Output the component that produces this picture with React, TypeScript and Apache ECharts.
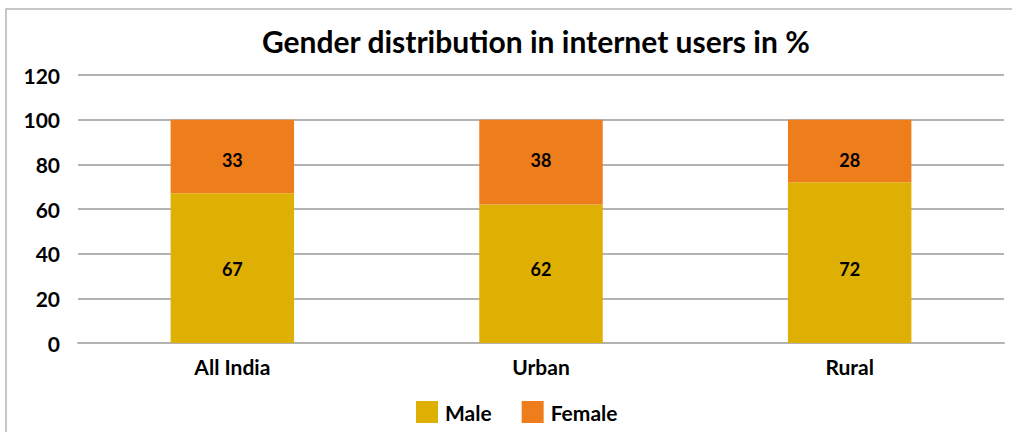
import React, { useEffect, useRef } from "react";
import * as echarts from "echarts";

const categories = ["All India", "Urban", "Rural"];
const maleValues = [67, 62, 72];
const femaleValues = [33, 38, 28];
const yTicks = { min: 0, max: 120, interval: 20 };

// label positions in the reference sit at fixed heights (style only)
const maleLabelOffsets = [1, -5, 6];
const femaleLabelOffsets = [3, -2, 9];

const FONT = "Lato, 'Open Sans', sans-serif";

export default function App() {
  const ref = useRef<HTMLDivElement>(null);
  useEffect(() => {
    if (!ref.current) return;
    const chart = echarts.init(ref.current, null, { renderer: "svg" });
    const labelBase = { show: true, position: "inside", fontFamily: FONT, fontWeight: "bold", fontSize: 18, color: "#000" };
    chart.setOption({
      animation: false,
      backgroundColor: "#ffffff",
      title: {
        text: "Gender distribution in internet users in %",
        left: 257,
        top: 21,
        textStyle: { fontFamily: FONT, fontWeight: "bold", fontSize: 30, color: "#000" },
      },
      graphic: [
        {
          type: "rect",
          shape: { x: 6, y: 9, width: 1020, height: 440 },
          style: { fill: "none", stroke: "#b5b5b5", lineWidth: 1.5 },
          silent: true,
        },
      ],
      legend: {
        data: ["Male", "Female"],
        left: 411,
        top: 396,
        itemWidth: 22,
        itemHeight: 22,
        itemGap: 30,
        icon: "rect",
        textStyle: { fontFamily: FONT, fontWeight: "bold", fontSize: 21, color: "#000", padding: [0, 0, 0, 2] },
      },
      grid: { left: 78, right: 8, top: 75, bottom: 89, containLabel: false },
      xAxis: {
        type: "category",
        data: categories,
        axisLine: { show: true, lineStyle: { color: "#b3b3b3", width: 2 } },
        axisTick: { show: false },
        axisLabel: { fontFamily: FONT, fontWeight: "bold", fontSize: 21, color: "#000", margin: 13 },
      },
      yAxis: {
        type: "value",
        min: yTicks.min,
        max: yTicks.max,
        interval: yTicks.interval,
        axisLine: { show: false },
        axisTick: { show: false },
        splitLine: { lineStyle: { color: "#b3b3b3", width: 2 } },
        axisLabel: { fontFamily: FONT, fontWeight: "bold", fontSize: 21, color: "#000", margin: 18, align: "right" },
      },
      series: [
        {
          name: "Male",
          type: "bar",
          stack: "g",
          data: maleValues.map((v, i) => ({ value: v, label: { offset: [0, maleLabelOffsets[i]] } })),
          barWidth: "40%",
          itemStyle: { color: "#DFB004" },
          label: labelBase,
        },
        {
          name: "Female",
          type: "bar",
          stack: "g",
          data: femaleValues.map((v, i) => ({ value: v, label: { offset: [0, femaleLabelOffsets[i]] } })),
          barWidth: "40%",
          itemStyle: { color: "#EE7E1C" },
          label: labelBase,
        },
      ],
    });
    return () => chart.dispose();
  }, []);
  return (
    <div
      ref={ref}
      style={{ position: "absolute", left: 0, top: 0, width: 1012, height: 432 }}
    />
  );
}
